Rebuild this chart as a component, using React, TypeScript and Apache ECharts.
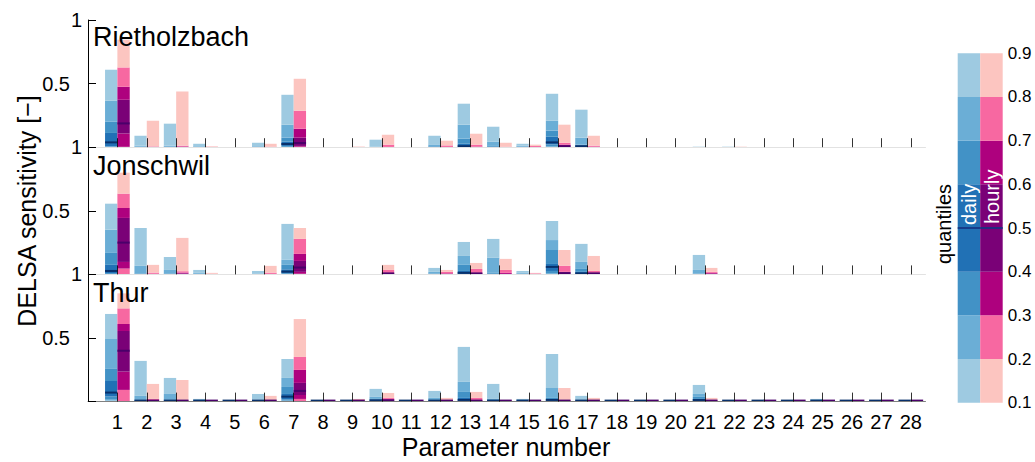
import React, { useEffect, useRef } from "react";
import * as echarts from "echarts";

// ---------------- data ----------------
const PARAMETERS = [1, 2, 3, 4, 5, 6, 7, 8, 9, 10, 11, 12, 13, 14, 15, 16, 17, 18, 19, 20, 21, 22, 23, 24, 25, 26, 27, 28];
const STATIONS = ["Rietholzbach", "Jonschwil", "Thur"];
const QUANTILE_LEVELS = [0.1, 0.2, 0.3, 0.4, 0.5, 0.6, 0.7, 0.8, 0.9];
const RESOLUTIONS = ["daily", "hourly"];

// each row: quantiles q10..q90 of DELSA sensitivity for one parameter
const RIETHOLZBACH_DAILY = [
  [0, 0.001, 0.003, 0.008, 0.038, 0.112, 0.2, 0.365, 0.609],
  [0, 0, 0, 0, 0, 0.002, 0.005, 0.012, 0.09],
  [0, 0, 0, 0, 0, 0.003, 0.007, 0.012, 0.185],
  [0, 0, 0, 0, 0, 0.002, 0.004, 0.008, 0.027],
  [0, 0, 0, 0, 0, 0, 0, 0, 0],
  [0, 0, 0, 0, 0, 0.001, 0.003, 0.008, 0.035],
  [0, 0.001, 0.003, 0.01, 0.025, 0.043, 0.075, 0.177, 0.412],
  [0, 0, 0, 0, 0, 0, 0, 0, 0],
  [0, 0, 0, 0, 0, 0, 0, 0, 0],
  [0, 0, 0, 0, 0, 0.001, 0.002, 0.005, 0.059],
  [0, 0, 0, 0, 0, 0, 0, 0, 0],
  [0, 0, 0, 0, 0, 0.003, 0.008, 0.022, 0.09],
  [0, 0, 0.001, 0.003, 0.006, 0.027, 0.067, 0.177, 0.342],
  [0, 0, 0, 0, 0, 0.004, 0.01, 0.043, 0.161],
  [0, 0, 0, 0, 0, 0.003, 0.006, 0.012, 0.027],
  [0, 0.001, 0.005, 0.022, 0.038, 0.082, 0.13, 0.208, 0.42],
  [0, 0, 0.001, 0.002, 0.004, 0.01, 0.02, 0.075, 0.295],
  [0, 0, 0, 0, 0, 0, 0, 0, 0],
  [0, 0, 0, 0, 0, 0, 0, 0, 0],
  [0, 0, 0, 0, 0, 0, 0, 0, 0],
  [0, 0, 0, 0, 0, 0, 0, 0.001, 0.004],
  [0, 0, 0, 0, 0, 0, 0, 0.001, 0.004],
  [0, 0, 0, 0, 0, 0, 0, 0, 0],
  [0, 0, 0, 0, 0, 0, 0, 0, 0],
  [0, 0, 0, 0, 0, 0, 0, 0, 0],
  [0, 0, 0, 0, 0, 0, 0, 0, 0],
  [0, 0, 0, 0, 0, 0, 0, 0, 0],
  [0, 0, 0, 0, 0, 0, 0, 0, 0],
];
const RIETHOLZBACH_HOURLY = [
  [0, 0.001, 0.003, 0.108, 0.187, 0.373, 0.475, 0.627, 0.845],
  [0, 0, 0, 0, 0, 0.001, 0.003, 0.006, 0.208],
  [0, 0, 0, 0, 0, 0.002, 0.006, 0.012, 0.438],
  [0, 0, 0, 0, 0, 0, 0.001, 0.003, 0.007],
  [0, 0, 0, 0, 0, 0, 0, 0, 0],
  [0, 0, 0, 0, 0, 0, 0.002, 0.004, 0.027],
  [0, 0.001, 0.004, 0.01, 0.033, 0.075, 0.145, 0.287, 0.538],
  [0, 0, 0, 0, 0, 0, 0, 0, 0],
  [0, 0, 0, 0, 0, 0, 0.001, 0.002, 0.005],
  [0, 0, 0, 0, 0, 0, 0.002, 0.02, 0.098],
  [0, 0, 0, 0, 0, 0, 0, 0, 0],
  [0, 0, 0, 0, 0, 0, 0.002, 0.014, 0.051],
  [0, 0, 0, 0, 0, 0.001, 0.004, 0.02, 0.106],
  [0, 0, 0, 0, 0, 0, 0.002, 0.004, 0.035],
  [0, 0, 0, 0, 0, 0, 0.002, 0.01, 0.02],
  [0, 0, 0, 0.002, 0.005, 0.01, 0.02, 0.035, 0.177],
  [0, 0, 0, 0, 0, 0.001, 0.004, 0.012, 0.09],
  [0, 0, 0, 0, 0, 0, 0, 0, 0],
  [0, 0, 0, 0, 0, 0, 0, 0, 0],
  [0, 0, 0, 0, 0, 0, 0, 0, 0],
  [0, 0, 0, 0, 0, 0, 0, 0, 0],
  [0, 0, 0, 0, 0, 0, 0, 0.001, 0.004],
  [0, 0, 0, 0, 0, 0, 0, 0, 0],
  [0, 0, 0, 0, 0, 0, 0, 0, 0],
  [0, 0, 0, 0, 0, 0, 0, 0, 0],
  [0, 0, 0, 0, 0, 0, 0, 0, 0],
  [0, 0, 0, 0, 0, 0, 0, 0, 0],
  [0, 0, 0, 0, 0, 0, 0, 0, 0],
];
const JONSCHWIL_DAILY = [
  [0, 0.001, 0.003, 0.01, 0.027, 0.075, 0.169, 0.352, 0.556],
  [0, 0, 0, 0, 0, 0.003, 0.008, 0.067, 0.365],
  [0, 0, 0, 0, 0, 0.003, 0.008, 0.035, 0.137],
  [0, 0, 0, 0, 0, 0.002, 0.005, 0.012, 0.035],
  [0, 0, 0, 0, 0, 0, 0, 0, 0],
  [0, 0, 0, 0, 0, 0.002, 0.004, 0.008, 0.027],
  [0, 0.001, 0.004, 0.01, 0.022, 0.04, 0.075, 0.117, 0.397],
  [0, 0, 0, 0, 0, 0, 0, 0, 0],
  [0, 0, 0, 0, 0, 0, 0, 0, 0],
  [0, 0, 0, 0, 0, 0, 0, 0, 0],
  [0, 0, 0, 0, 0, 0, 0, 0, 0],
  [0, 0, 0, 0, 0, 0.004, 0.008, 0.02, 0.051],
  [0, 0, 0.001, 0.004, 0.012, 0.027, 0.075, 0.145, 0.255],
  [0, 0, 0, 0, 0, 0.005, 0.012, 0.13, 0.279],
  [0, 0, 0, 0, 0, 0.003, 0.006, 0.012, 0.027],
  [0, 0.002, 0.01, 0.027, 0.059, 0.082, 0.192, 0.27, 0.42],
  [0, 0, 0.001, 0.003, 0.008, 0.02, 0.043, 0.098, 0.24],
  [0, 0, 0, 0, 0, 0, 0, 0, 0],
  [0, 0, 0, 0, 0, 0, 0, 0, 0],
  [0, 0, 0, 0, 0, 0, 0, 0, 0],
  [0, 0, 0, 0, 0, 0.003, 0.007, 0.035, 0.153],
  [0, 0, 0, 0, 0, 0, 0, 0, 0],
  [0, 0, 0, 0, 0, 0, 0, 0, 0],
  [0, 0, 0, 0, 0, 0, 0, 0, 0],
  [0, 0, 0, 0, 0, 0, 0, 0, 0],
  [0, 0, 0, 0, 0, 0, 0, 0, 0],
  [0, 0, 0, 0, 0, 0, 0, 0, 0],
  [0, 0, 0, 0, 0, 0, 0, 0, 0],
];
const JONSCHWIL_HOURLY = [
  [0, 0.002, 0.046, 0.098, 0.25, 0.444, 0.522, 0.635, 0.8],
  [0, 0, 0, 0, 0, 0.002, 0.005, 0.014, 0.075],
  [0, 0, 0, 0, 0, 0.008, 0.014, 0.025, 0.287],
  [0, 0, 0, 0, 0, 0, 0.002, 0.005, 0.012],
  [0, 0, 0, 0, 0, 0, 0, 0, 0],
  [0, 0, 0, 0, 0, 0.002, 0.004, 0.014, 0.067],
  [0, 0.002, 0.005, 0.02, 0.054, 0.106, 0.161, 0.279, 0.365],
  [0, 0, 0, 0, 0, 0, 0, 0, 0],
  [0, 0, 0, 0, 0, 0, 0, 0, 0],
  [0, 0, 0, 0.002, 0.005, 0.008, 0.012, 0.035, 0.075],
  [0, 0, 0, 0, 0, 0, 0, 0, 0],
  [0, 0, 0, 0, 0, 0.003, 0.008, 0.02, 0.035],
  [0, 0, 0.001, 0.002, 0.004, 0.008, 0.012, 0.043, 0.09],
  [0, 0, 0, 0, 0, 0.004, 0.012, 0.035, 0.122],
  [0, 0, 0, 0, 0, 0.002, 0.004, 0.008, 0.012],
  [0, 0, 0.002, 0.005, 0.01, 0.015, 0.02, 0.067, 0.192],
  [0, 0, 0.001, 0.003, 0.006, 0.009, 0.012, 0.027, 0.145],
  [0, 0, 0, 0, 0, 0, 0, 0, 0],
  [0, 0, 0, 0, 0, 0, 0, 0, 0],
  [0, 0, 0, 0, 0, 0, 0, 0, 0],
  [0, 0, 0, 0, 0, 0.006, 0.012, 0.02, 0.051],
  [0, 0, 0, 0, 0, 0, 0, 0, 0],
  [0, 0, 0, 0, 0, 0, 0, 0, 0],
  [0, 0, 0, 0, 0, 0, 0, 0, 0],
  [0, 0, 0, 0, 0, 0, 0, 0, 0],
  [0, 0, 0, 0, 0, 0, 0, 0, 0],
  [0, 0, 0, 0, 0, 0, 0, 0, 0],
  [0, 0, 0, 0, 0, 0, 0, 0, 0],
];
const THUR_DAILY = [
  [0, 0.008, 0.02, 0.04, 0.071, 0.162, 0.257, 0.492, 0.689],
  [0, 0.001, 0.002, 0.004, 0.006, 0.009, 0.013, 0.045, 0.32],
  [0, 0.001, 0.002, 0.004, 0.006, 0.009, 0.013, 0.06, 0.186],
  [0, 0, 0.001, 0.002, 0.003, 0.005, 0.008, 0.012, 0.021],
  [0, 0, 0, 0.001, 0.002, 0.003, 0.004, 0.005, 0.006],
  [0, 0, 0.001, 0.002, 0.003, 0.005, 0.008, 0.015, 0.06],
  [0, 0.003, 0.008, 0.018, 0.039, 0.06, 0.115, 0.186, 0.335],
  [0, 0, 0, 0.001, 0.002, 0.003, 0.004, 0.005, 0.006],
  [0, 0, 0, 0.001, 0.002, 0.003, 0.004, 0.005, 0.006],
  [0, 0.001, 0.003, 0.006, 0.01, 0.015, 0.021, 0.037, 0.1],
  [0, 0, 0, 0.001, 0.002, 0.003, 0.004, 0.005, 0.006],
  [0, 0, 0.001, 0.002, 0.004, 0.006, 0.01, 0.029, 0.084],
  [0, 0.001, 0.003, 0.006, 0.013, 0.029, 0.076, 0.155, 0.43],
  [0, 0, 0.001, 0.002, 0.004, 0.006, 0.01, 0.021, 0.139],
  [0, 0, 0.001, 0.002, 0.003, 0.005, 0.008, 0.013, 0.021],
  [0, 0.001, 0.003, 0.007, 0.013, 0.02, 0.029, 0.107, 0.374],
  [0, 0, 0.001, 0.002, 0.004, 0.006, 0.009, 0.013, 0.045],
  [0, 0, 0, 0.001, 0.002, 0.003, 0.004, 0.005, 0.006],
  [0, 0, 0, 0.001, 0.002, 0.003, 0.004, 0.005, 0.006],
  [0, 0, 0, 0.001, 0.002, 0.003, 0.004, 0.005, 0.006],
  [0, 0.001, 0.003, 0.007, 0.012, 0.021, 0.037, 0.06, 0.131],
  [0, 0, 0, 0.001, 0.002, 0.003, 0.004, 0.005, 0.006],
  [0, 0, 0, 0.001, 0.002, 0.003, 0.004, 0.005, 0.006],
  [0, 0, 0, 0.001, 0.002, 0.003, 0.004, 0.005, 0.006],
  [0, 0, 0, 0.001, 0.002, 0.003, 0.004, 0.006, 0.021],
  [0, 0, 0, 0.001, 0.002, 0.003, 0.004, 0.005, 0.006],
  [0, 0, 0, 0.001, 0.002, 0.003, 0.004, 0.005, 0.006],
  [0, 0, 0, 0.001, 0.002, 0.003, 0.004, 0.005, 0.006],
];
const THUR_HOURLY = [
  [0, 0, 0.092, 0.236, 0.4, 0.555, 0.61, 0.733, 0.851],
  [0, 0.001, 0.002, 0.004, 0.006, 0.009, 0.013, 0.021, 0.139],
  [0, 0.001, 0.002, 0.003, 0.005, 0.008, 0.01, 0.013, 0.17],
  [0, 0, 0.001, 0.002, 0.003, 0.004, 0.005, 0.006, 0.008],
  [0, 0, 0, 0.001, 0.002, 0.002, 0.003, 0.004, 0.005],
  [0, 0, 0.001, 0.002, 0.003, 0.005, 0.007, 0.01, 0.045],
  [0, 0, 0.021, 0.052, 0.084, 0.147, 0.249, 0.351, 0.649],
  [0, 0, 0, 0.001, 0.002, 0.002, 0.003, 0.004, 0.005],
  [0, 0, 0.001, 0.002, 0.003, 0.004, 0.005, 0.006, 0.021],
  [0, 0.001, 0.003, 0.006, 0.01, 0.015, 0.021, 0.029, 0.068],
  [0, 0, 0, 0.001, 0.002, 0.002, 0.003, 0.004, 0.005],
  [0, 0, 0.001, 0.002, 0.003, 0.004, 0.006, 0.008, 0.029],
  [0, 0.001, 0.002, 0.004, 0.006, 0.009, 0.013, 0.029, 0.076],
  [0, 0, 0.001, 0.002, 0.003, 0.004, 0.006, 0.008, 0.013],
  [0, 0, 0, 0.001, 0.002, 0.003, 0.004, 0.006, 0.013],
  [0, 0.001, 0.002, 0.003, 0.005, 0.007, 0.01, 0.013, 0.107],
  [0, 0, 0.001, 0.002, 0.003, 0.004, 0.006, 0.008, 0.029],
  [0, 0, 0, 0.001, 0.002, 0.002, 0.003, 0.004, 0.005],
  [0, 0, 0, 0.001, 0.002, 0.002, 0.003, 0.004, 0.005],
  [0, 0, 0, 0.001, 0.002, 0.002, 0.003, 0.004, 0.005],
  [0, 0.001, 0.002, 0.003, 0.005, 0.008, 0.011, 0.016, 0.029],
  [0, 0, 0, 0.001, 0.002, 0.002, 0.003, 0.004, 0.005],
  [0, 0, 0, 0.001, 0.002, 0.002, 0.003, 0.004, 0.005],
  [0, 0, 0, 0.001, 0.002, 0.002, 0.003, 0.004, 0.005],
  [0, 0, 0, 0.001, 0.002, 0.002, 0.003, 0.004, 0.005],
  [0, 0, 0, 0.001, 0.002, 0.002, 0.003, 0.004, 0.005],
  [0, 0, 0, 0.001, 0.002, 0.002, 0.003, 0.004, 0.005],
  [0, 0, 0, 0.001, 0.002, 0.002, 0.003, 0.004, 0.005],
];
const STATION_DATA = [
  [RIETHOLZBACH_DAILY, RIETHOLZBACH_HOURLY],
  [JONSCHWIL_DAILY, JONSCHWIL_HOURLY],
  [THUR_DAILY, THUR_HOURLY],
];

// ---------------- styling ----------------
const FONT = "'Liberation Sans', Arial, Helvetica, sans-serif";
const BLUE_BANDS = ["#9ecae1", "#6baed6", "#4292c6", "#2171b5", "#2171b5", "#4292c6", "#6baed6", "#9ecae1"];
const PINK_BANDS = ["#fcc5c0", "#f768a1", "#ae017e", "#7a0177", "#7a0177", "#ae017e", "#f768a1", "#fcc5c0"];
const PALETTES = [
  { bands: BLUE_BANDS, median: "#08306b" },
  { bands: PINK_BANDS, median: "#49006a" },
];
const BAR_W = 0.42;
const GRID_LEFT = 88;
const GRID_RIGHT = 1035 - 925.5;
const PANEL_TOP = 20;
const PANEL_H = 127.2;

function makeRenderer(offset: number, width: number, bands: string[], medianColor: string) {
  return (params: any, api: any) => {
    const x = api.value(0) as number;
    const q = QUANTILE_LEVELS.map((_, k) => api.value(k + 1) as number);
    const xl = x + offset;
    const xr = x + offset + width;
    const children: any[] = [];
    for (let b = 0; b < 8; b++) {
      if (!(q[b + 1] > q[b])) continue;
      const tl = api.coord([xl, q[b + 1]]);
      const br = api.coord([xr, q[b]]);
      children.push({
        type: "rect",
        shape: { x: tl[0], y: tl[1], width: br[0] - tl[0], height: br[1] - tl[1] },
        style: { fill: bands[b] },
      });
    }
    if (q[4] > 0) {
      const m = api.coord([xl, q[4]]);
      const r = api.coord([xr, q[4]]);
      const base = api.coord([xl, q[0]]);
      let y = m[1] - 1;
      if (y + 2 > base[1]) y = base[1] - 2;
      children.push({
        type: "rect",
        shape: { x: m[0], y, width: r[0] - m[0], height: 2 },
        style: { fill: medianColor },
      });
    }
    return { type: "group", children };
  };
}

export default function App() {
  const ref = useRef<HTMLDivElement>(null);
  useEffect(() => {
    if (!ref.current) return;
    const chart = echarts.init(ref.current, null, { renderer: "svg" });

    const grids: any[] = [];
    const xAxes: any[] = [];
    const yAxes: any[] = [];
    const series: any[] = [];
    const graphics: any[] = [];

    STATIONS.forEach((name, i) => {
      grids.push({ left: GRID_LEFT, right: GRID_RIGHT, top: PANEL_TOP + i * PANEL_H, height: PANEL_H });
      const isBottom = i === STATIONS.length - 1;
      xAxes.push({
        type: "value",
        gridIndex: i,
        min: 0,
        max: 28.5,
        interval: 1,
        z: 5,
        axisLine: { show: true, onZero: false, lineStyle: { color: isBottom ? "#808080" : "#e2e2e2", width: 1 } },
        axisTick: {
          show: true,
          inside: true,
          length: 9,
          customValues: PARAMETERS,
          lineStyle: { color: "rgba(0,0,0,0.8)", width: 1 },
        },
        axisLabel: {
          show: isBottom,
          customValues: PARAMETERS,
          fontSize: 20,
          color: "#000",
          fontFamily: FONT,
          margin: 10,
        },
        splitLine: { show: false },
      });
      yAxes.push({
        type: "value",
        gridIndex: i,
        min: 0,
        max: 1,
        interval: 0.5,
        z: 5,
        axisLine: { show: true, lineStyle: { color: "#000", width: 1 } },
        axisTick: { show: true, inside: true, length: 8, lineStyle: { color: "#000", width: 1 } },
        axisLabel: {
          formatter: (v: number) => (v === 0 ? "" : v === 1 ? "1" : "{half|" + v + "}"),
          rich: { half: { fontSize: 20, fontFamily: FONT, color: "#000", padding: [0, 12, 0, 0] } },
          fontSize: 20,
          color: "#000",
          fontFamily: FONT,
          margin: 6,
        },
        splitLine: { show: false },
      });
      RESOLUTIONS.forEach((res, r) => {
        const rows = STATION_DATA[i][r];
        series.push({
          type: "custom",
          name: name + " " + res,
          xAxisIndex: i,
          yAxisIndex: i,
          clip: false,
          z: 2,
          data: rows.map((q, k) => [PARAMETERS[k], ...q]),
          renderItem: makeRenderer(r === 0 ? -BAR_W : 0, BAR_W, PALETTES[r].bands, PALETTES[r].median),
        });
      });
      const titleY = [36.5, 165.5, 292.8][i];
      graphics.push({
        type: "text",
        x: 93,
        y: titleY,
        z: 100,
        style: { text: name, fontSize: 27, fontFamily: FONT, fill: "#000", align: "left", verticalAlign: "middle" },
      });
    });

    // colour bar (quantile legend)
    grids.push({ left: 957.7, width: 45, top: 53.3, height: 349.4 });
    xAxes.push({ type: "value", gridIndex: 3, min: 0, max: 2, show: false });
    yAxes.push({
      type: "value",
      gridIndex: 3,
      min: 0.1,
      max: 0.9,
      interval: 0.1,
      position: "right",
      axisLine: { show: false },
      axisTick: { show: false },
      splitLine: { show: false },
      axisLabel: {
        formatter: (v: number) => v.toFixed(1),
        fontSize: 17,
        color: "#000",
        fontFamily: FONT,
        margin: 5,
      },
    });
    RESOLUTIONS.forEach((res, r) => {
      series.push({
        type: "custom",
        name: "legend " + res,
        xAxisIndex: 3,
        yAxisIndex: 3,
        clip: false,
        z: 2,
        data: [[r, ...QUANTILE_LEVELS]],
        renderItem: makeRenderer(0, 1, PALETTES[r].bands, "rgba(20,50,130,0.85)"),
      });
    });

    graphics.push(
      {
        type: "text",
        x: 969,
        y: 225,
        z: 100,
        rotation: Math.PI / 2,
        style: { text: RESOLUTIONS[0], fontSize: 20, fontFamily: FONT, fill: "#fff", align: "left", verticalAlign: "middle" },
      },
      {
        type: "text",
        x: 991.5,
        y: 224,
        z: 100,
        rotation: Math.PI / 2,
        style: { text: RESOLUTIONS[1], fontSize: 20, fontFamily: FONT, fill: "#fff", align: "left", verticalAlign: "middle" },
      },
      {
        type: "text",
        x: 944,
        y: 224,
        z: 100,
        rotation: Math.PI / 2,
        style: { text: "quantiles", fontSize: 20, fontFamily: FONT, fill: "#000", align: "center", verticalAlign: "middle" },
      },
      {
        type: "text",
        x: 27,
        y: 211,
        z: 100,
        rotation: Math.PI / 2,
        style: { text: "DELSA sensitivity [−]", fontSize: 25, fontFamily: FONT, fill: "#000", align: "center", verticalAlign: "middle" },
      },
      {
        type: "text",
        x: 506,
        y: 446.5,
        z: 100,
        style: { text: "Parameter number", fontSize: 25, fontFamily: FONT, fill: "#000", align: "center", verticalAlign: "middle" },
      }
    );

    chart.setOption({
      animation: false,
      backgroundColor: "#fff",
      textStyle: { fontFamily: FONT },
      grid: grids,
      xAxis: xAxes,
      yAxis: yAxes,
      series,
      graphic: graphics,
    });
    return () => chart.dispose();
  }, []);
  return <div ref={ref} style={{ position: "absolute", left: 0, top: 0, width: 1035, height: 462 }} />;
}
